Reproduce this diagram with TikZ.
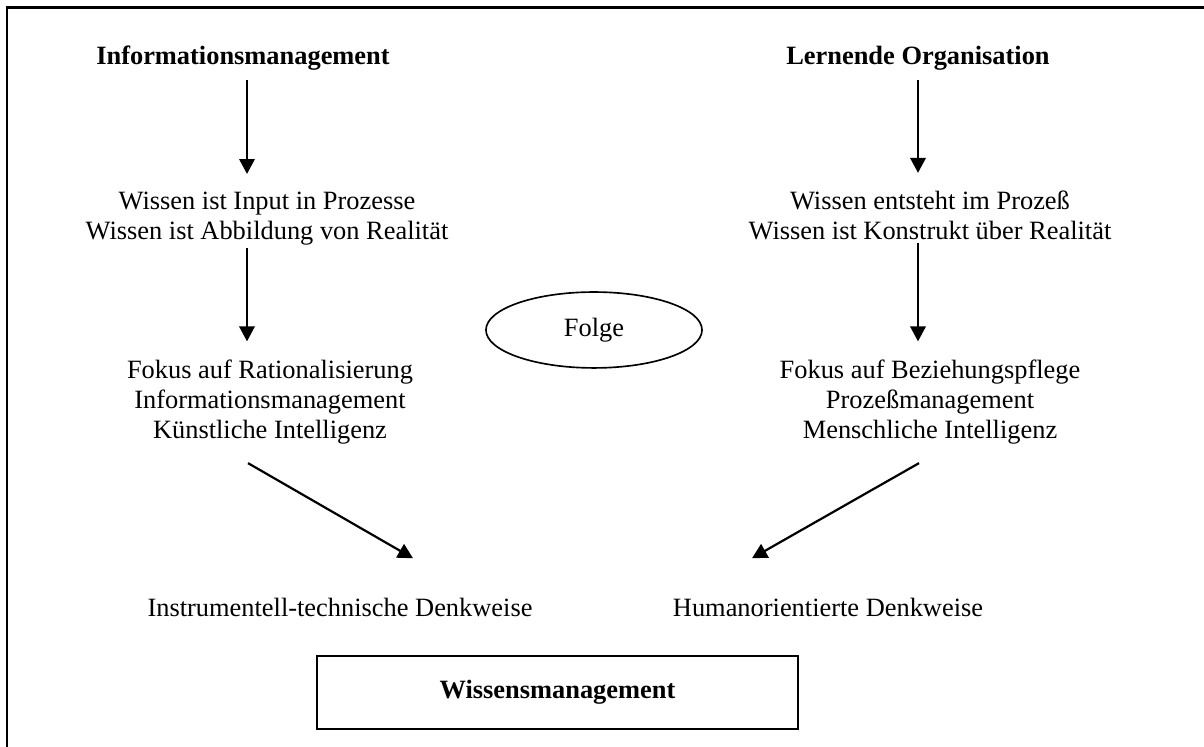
\documentclass[tikz,border=0pt]{standalone}
\usepackage{fontspec}
\setmainfont{Liberation Serif}
\usetikzlibrary{arrows.meta,shapes.geometric}

\begin{document}
\begin{tikzpicture}[x=0.4545pt,y=0.4545pt,
    every node/.style={font=\fontsize{12pt}{13.86pt}\selectfont,inner sep=0pt,align=center},
    head/.style={font=\fontsize{12pt}{13.86pt}\selectfont\bfseries,anchor=base},
    txt/.style={anchor=base},
    arr/.style={-{Triangle[length=6.8pt,width=7pt]},line width=1pt,shorten >=8pt}]
                \clip (0,0) rectangle (1204,747);
                \draw[line width=1pt] (7,-20) -- (7,739.5) -- (1230,739.5);

                \coordinate (lx) at (247,0);
                \coordinate (rx) at (918,0);

                \node[head] (infoH) at (243,682) {Informationsmanagement};
                \node[head] (lernH) at (918,682) {Lernende Organisation};

                \node[txt] (wissL) at (267,507) {Wissen ist Input in Prozesse\\Wissen ist Abbildung von Realität};
                \node[txt] (wissR) at (930,507) {Wissen entsteht im Prozeß\\Wissen ist Konstrukt über Realität};

                \node[draw,ellipse,line width=0.75pt,minimum width=98.2pt,minimum height=34.5pt] (folge) at (594,417) {Folge};

                \node[txt] (fokL) at (270,308) {Fokus auf Rationalisierung\\Informationsmanagement\\Künstliche Intelligenz};
                \node[txt] (fokR) at (930,308) {Fokus auf Beziehungspflege\\Prozeßmanagement\\Menschliche Intelligenz};

                \node[txt] (instr) at (340,130) {Instrumentell-technische Denkweise};
                \node[txt] (human) at (828,130) {Humanorientierte Denkweise};

                \node[draw,line width=0.9pt,minimum width=218.6pt,minimum height=33.2pt,font=\fontsize{12pt}{13.86pt}\selectfont\bfseries] (wm) at (557.5,54.5) {Wissensmanagement};

                \draw[arr,shorten <=4.2pt] (infoH.south -| lx) -- (wissL.north -| lx);
                \draw[arr,shorten <=1pt] (wissL.south -| lx) -- (fokL.north -| lx);
                \draw[arr,shorten <=4.2pt] (lernH.south -| rx) -- (wissR.north -| rx);
                \draw[arr,shorten <=1pt] (wissR.south -| rx) -- (fokR.north -| rx);

                \draw[arr,shorten >=0pt] ([shift={(-22,-18)}]fokL.south) -- ([shift={(73,40)}]instr.north);
                \draw[arr,shorten >=0pt] ([shift={(-11,-18)}]fokR.south) -- ([shift={(-76,40)}]human.north);
\end{tikzpicture}
\end{document}
